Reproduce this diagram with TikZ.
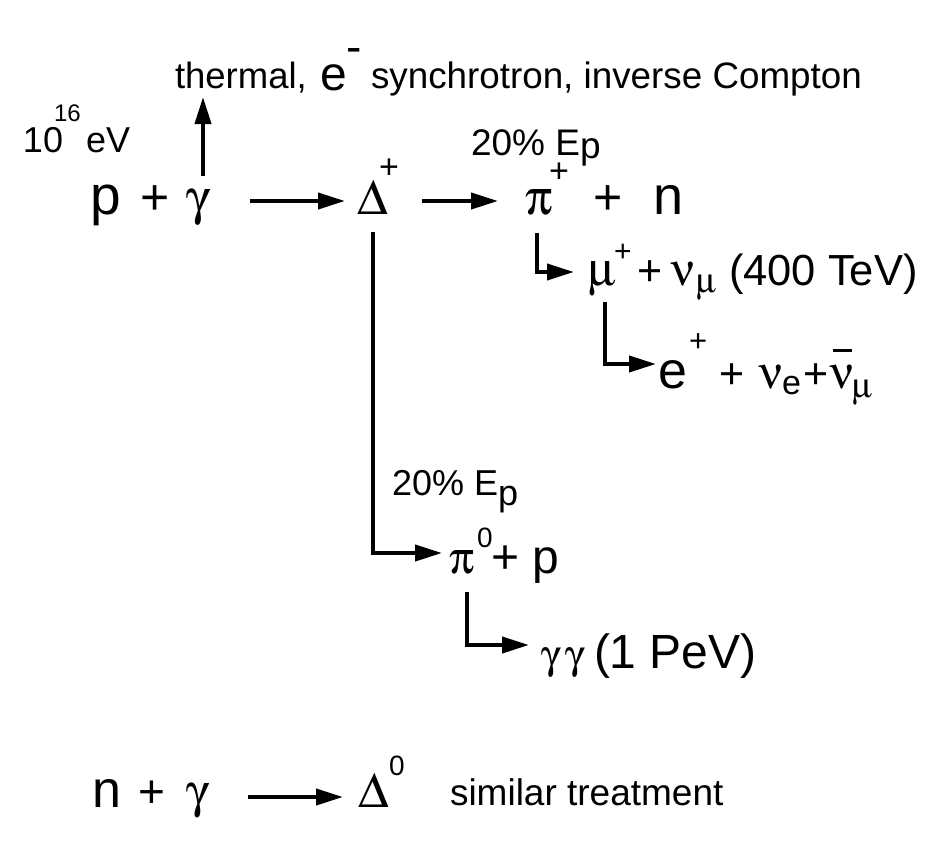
\documentclass[tikz,border=0pt]{standalone}
\usepackage{fontspec}
\setmainfont{Liberation Sans}
\usetikzlibrary{arrows.meta}
\newcommand\fsz[1]{\fontsize{#1}{#1}\selectfont}
\newcommand\grk{\usefont{U}{psy}{m}{n}}
\begin{document}
\begin{tikzpicture}[x=1pt,y=-1pt,
  txt/.style={anchor=base west,inner sep=0pt,outer sep=0pt},
  arr/.style={line width=4pt,-{Triangle[length=27pt,width=16pt]}},
  barline/.style={line width=2.8pt}]
\useasboundingbox[fill=white] (0,0) rectangle (942,846);
% top line
\node[txt,font=\fsz{36.5}] (th) at (175,88) {thermal,};
\node[txt,font=\fsz{48}] (em) at (320,90) {e};
\node[txt,font=\fsz{46}] (emm) at (346,62) {-};
\node[txt,font=\fsz{36.8}] (sy) at (371,88) {synchrotron, inverse Compton};
% 10^16 eV
\node[txt,font=\fsz{36}] (ten) at (23,152) {10};
\node[txt,font=\fsz{24}] (sixteen) at (54,121) {16};
\node[txt,font=\fsz{36}] (ev) at (86,152) {eV};
% main row
\node[txt,font=\fsz{55}] (p1) at (90,214) {p};
\node[txt,font=\fsz{50}] (pl1) at (140,214) {+};
\node[txt,font=\grk\fsz{50}] (g1) at (186,214) {g};
\node[txt,font=\grk\fsz{50}] (D1) at (357,214) {D};
\node[txt,font=\fsz{34}] (D1s) at (379,178) {+};
\node[txt,font=\grk\fsz{50}] (pi1) at (525,214) {p};
\node[txt,font=\fsz{34}] (pi1s) at (549,182) {+};
\node[txt,font=\fsz{50}] (pl2) at (593,214) {+};
\node[txt,font=\fsz{54}] (n1) at (653,214) {n};
\node[txt,font=\fsz{37}] (e20a) at (471,155) {20\% E\raisebox{-3pt}{p}};
% mu row
\node[txt,font=\grk\fsz{48}] (mu) at (588,285) {m};
\node[txt,font=\fsz{30}] (mus) at (614,261) {+};
\node[txt,font=\fsz{43}] (pl3) at (637,285) {+};
\node[txt,font=\grk\fsz{46}] (nu1) at (671,285) {n};
\node[txt,font=\grk\fsz{35}] (nu1s) at (696,292) {m};
\node[txt,font=\fsz{43.5}] (tev) at (729,285) {(400 TeV)};
% e row
\node[txt,font=\fsz{52}] (e1) at (658,388) {e};
\node[txt,font=\fsz{31}] (e1s) at (689,351) {+};
\node[txt,font=\fsz{43}] (pl4) at (719,388) {+};
\node[txt,font=\grk\fsz{46}] (nu2) at (759,388) {n};
\node[txt,font=\fsz{34}] (nu2s) at (782,394) {e};
\node[txt,font=\fsz{43}] (pl5) at (803,388) {+};
\node[txt,font=\grk\fsz{46}] (nu3) at (830,388) {n};
\node[txt,font=\grk\fsz{35}] (nu3s) at (852,397) {m};
\draw[barline] ([yshift=14pt,xshift=3pt]nu3.north west) -- ([yshift=14pt,xshift=-2pt]nu3.north east);
% pi0 branch
\node[txt,font=\fsz{36}] (e20b) at (392,495) {20\% E\raisebox{-10pt}{p}};
\node[txt,font=\grk\fsz{46}] (pi0) at (449,573) {p};
\node[txt,font=\fsz{28}] (pi0s) at (477,547) {0};
\node[txt,font=\fsz{48}] (pi0r) at (491,573) {+ p};
\node[txt,font=\grk\fsz{41}] (ga) at (541,668) {g};
\node[txt,font=\grk\fsz{41}] (gb) at (565,668) {g};
\node[txt,font=\fsz{48}] (pev) at (594,668) {(1 PeV)};
% bottom row
\node[txt,font=\fsz{52}] (n2) at (92,807) {n};
\node[txt,font=\fsz{46}] (pl6) at (138,807) {+};
\node[txt,font=\grk\fsz{48}] (g2) at (186,807) {g};
\node[txt,font=\grk\fsz{50}] (D2) at (358,807) {D};
\node[txt,font=\fsz{28}] (D2s) at (389,775) {0};
\node[txt,font=\fsz{37}] (sim) at (450,805) {similar treatment};
% connector ends
\coordinate (upS) at (203,176); \coordinate (upE) at (203,97);
\coordinate (a1S) at (250,201); \coordinate (a1E) at (345,201);
\coordinate (a2S) at (422,201); \coordinate (a2E) at (498,201);
\coordinate (dvS) at (373,232); \coordinate (dvE) at (442,553);
\coordinate (l1S) at (537,233); \coordinate (l1E) at (574,272);
\coordinate (l2S) at (605,302); \coordinate (l2E) at (656,364);
\coordinate (l3S) at (467,592); \coordinate (l3E) at (529,645);
\coordinate (a3S) at (248,797); \coordinate (a3E) at (343,797);
\draw[arr] (upS) -- (upE);
\draw[arr] (a1S) -- (a1E);
\draw[arr] (a2S) -- (a2E);
\draw[arr] (dvS) |- (dvE);
\draw[arr] (l1S) |- (l1E);
\draw[arr] (l2S) |- (l2E);
\draw[arr] (l3S) |- (l3E);
\draw[arr] (a3S) -- (a3E);
\end{tikzpicture}
\end{document}
